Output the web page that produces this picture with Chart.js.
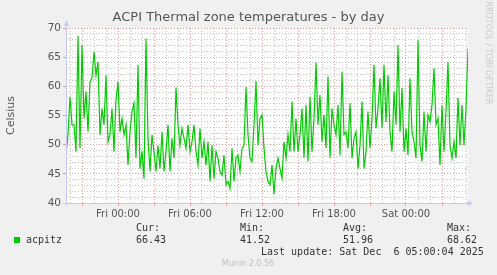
<!DOCTYPE html>
<html>
<head>
<meta charset="utf-8">
<script src="https://cdn.jsdelivr.net/npm/chart.js@4"></script>
<style>
  html, body { margin: 0; padding: 0; background: #f0f0f0; }
  #wrap { width: 497px; height: 275px; }
</style>
</head>
<body>
<div id="wrap"><canvas id="myChart" width="497" height="275"></canvas></div>
<script>
// time axis: hours relative to Fri 00:00, one sample every 10 minutes from Thu 19:40
const startHour = -4 - 20 / 60;
const stepHours = 10 / 60;

// acpitz temperature (Celsius)
const temps = [
  48.2, 51.7, 58.2, 53.4, 53.4, 48.8, 68.62, 49.4, 67.1, 54.5, 59.1, 52.2, 60.8, 61.4, 65.9, 61.9, 64.2,
  51.7, 56.2, 53.4, 61.9, 50.5, 51.7, 56.2, 48.8, 57.7, 60.8, 52.2, 54.5, 51.7, 53.4, 46.5, 52.2, 55.7,
  57.1, 47.7, 63.7, 45.9, 48.8, 44.2, 68.2, 51.1, 45.4, 51.7, 48.8, 45.4, 49.9, 45.9, 52.2, 45.4, 48.8,
  53.4, 45.4, 51.1, 47.7, 59.8, 53.4, 49.9, 52.8, 51.1, 49.4, 53.4, 48.8, 50.5, 53.4, 48.8, 46.5,
  52.8, 47.7, 50.5, 46.5, 50.5, 43.7, 49.9, 44.2, 48.8, 47.7, 45.4, 44.8, 48.2, 43.1, 43.7, 42.5, 49.4,
  43.7, 47.7, 48.2, 45.4, 49.4, 49.9, 59.9, 51.7, 47.7, 47.1, 53.4, 60.9, 49.9, 54.5, 55.1, 49.4, 45.4,
  43.7, 43.1, 46.5, 41.52, 45.9, 47.7, 45.9, 44.2, 50.5, 47.7, 51.7, 48.8, 57.4, 48.8, 54.5, 48.8, 51.7,
  56.2, 47.7, 56.8, 47.1, 58.2, 48.8, 54.5, 64.1, 53.4, 58.5, 50.5, 55.1, 49.4, 61.7, 47.7, 56.2,
  53.4, 51.7, 56.8, 48.2, 62.5, 51.7, 52.2, 49.4, 57.1, 47.7, 51.1, 52.2, 45.9, 49.9, 57.4, 45.9, 48.8,
  55.7, 49.4, 54.5, 63.7, 52.8, 56.2, 61.4, 52.8, 63.7, 53.9, 61.9, 52.2, 48.8, 59.1, 53.4, 67.1, 52.2,
  59.7, 48.8, 52.8, 48.2, 61.4, 52.2, 50.5, 47.7, 67.9, 49.9, 47.1, 55.7, 48.8, 55.1, 53.9, 56.8, 63.1,
  53.4, 54.5, 46.5, 56.8, 48.8, 55.7, 64.2, 49.9, 47.7, 50.5, 47.7, 58.0, 49.9, 56.8, 49.9, 56.2, 66.43
];

const tickHours = [0, 6, 12, 18, 24];
const tickLabels = ['Fri 00:00', 'Fri 06:00', 'Fri 12:00', 'Fri 18:00', 'Sat 00:00'];
const yMin = 40, yMax = 70, yMajor = 5;

const statHeads = ['Cur:', 'Min:', 'Avg:', 'Max:'];
const statValues = ['66.43', '41.52', '51.96', '68.62'];

const points = temps.map((t, i) => ({ x: startHour + i * stepHours, y: t }));

const MAJOR = '#e09c9c';
const MINOR = '#c4c4c4';
const AXIS = '#c8c8f8';

const muninDecor = {
  id: 'muninDecor',
  beforeDraw(chart) {
    const ctx = chart.ctx, a = chart.chartArea;
    ctx.save();
    ctx.fillStyle = '#f0f0f0';
    ctx.fillRect(0, 0, chart.width, chart.height);
    ctx.fillStyle = '#ffffff';
    ctx.fillRect(a.left, a.top, a.right - a.left, a.bottom - a.top);
    ctx.restore();
  },
  afterDraw(chart) {
    const ctx = chart.ctx, a = chart.chartArea;
    ctx.save();
    // axes with arrows
    ctx.strokeStyle = AXIS;
    ctx.fillStyle = AXIS;
    ctx.lineWidth = 1;
    ctx.beginPath();
    ctx.moveTo(a.left + 0.5, a.bottom + 3);
    ctx.lineTo(a.left + 0.5, a.top - 3);
    ctx.moveTo(a.left - 3, a.bottom + 0.5);
    ctx.lineTo(a.right + 2, a.bottom + 0.5);
    ctx.stroke();
    ctx.beginPath();
    ctx.moveTo(a.left - 2, a.top - 2);
    ctx.lineTo(a.left + 3, a.top - 2);
    ctx.lineTo(a.left + 0.5, a.top - 8);
    ctx.closePath();
    ctx.fill();
    ctx.beginPath();
    ctx.moveTo(a.right, a.bottom - 2);
    ctx.lineTo(a.right, a.bottom + 3);
    ctx.lineTo(a.right + 5, a.bottom + 0.5);
    ctx.closePath();
    ctx.fill();

    // title
    ctx.fillStyle = '#555';
    ctx.font = '13px "DejaVu Sans"';
    ctx.textAlign = 'center';
    ctx.textBaseline = 'middle';
    ctx.fillText('ACPI Thermal zone temperatures - by day', 248.5, 18);

    // y axis title
    ctx.save();
    ctx.translate(11, (a.top + a.bottom) / 2);
    ctx.rotate(-Math.PI / 2);
    ctx.font = '11px "DejaVu Sans"';
    ctx.fillText('Celsius', 0, 0);
    ctx.restore();

    // rrdtool credit
    ctx.save();
    ctx.translate(488, 53);
    ctx.rotate(Math.PI / 2);
    ctx.fillStyle = '#c8c8c8';
    ctx.font = '8px "DejaVu Sans"';
    ctx.fillText('RRDTOOL / TOBI OETIKER', 0, 0);
    ctx.restore();

    // legend
    ctx.fillStyle = '#00cc00';
    ctx.fillRect(14, 237, 6, 6);
    ctx.fillStyle = '#333';
    ctx.font = '10px "DejaVu Sans Mono"';
    ctx.textAlign = 'left';
    ctx.fillText('acpitz', 26, 240);
    const cols = [136, 240, 343, 447];
    cols.forEach((x, i) => {
      ctx.fillText(statHeads[i], x, 228);
      ctx.fillText(statValues[i], x, 240);
    });
    ctx.fillText('Last update: Sat Dec  6 05:00:04 2025', 261, 252);

    ctx.fillStyle = '#c0c0c0';
    ctx.font = '8px "DejaVu Sans"';
    ctx.textAlign = 'center';
    ctx.fillText('Munin 2.0.56', 248, 264);
    ctx.restore();
  }
};

new Chart(document.getElementById('myChart').getContext('2d'), {
  type: 'line',
  data: {
    datasets: [{
      label: 'acpitz',
      data: points,
      borderColor: '#00cc00',
      borderWidth: 1.2,
      pointRadius: 0,
      tension: 0,
      fill: false
    }]
  },
  options: {
    responsive: false,
    animation: false,
    layout: { padding: { left: 0, top: 28, right: 29, bottom: 52 } },
    plugins: {
      legend: { display: false },
      title: { display: false },
      tooltip: { enabled: false }
    },
    scales: {
      x: {
        type: 'linear',
        min: startHour,
        max: startHour + (temps.length - 1) * stepHours,
        afterFit: s => { s.height = 20; },
        border: { display: false, dash: [1, 2] },
        grid: {
          color: c => (c.tick.value % 3 === 0 ? MAJOR : MINOR),
          tickColor: c => (c.tick.value % 3 === 0 ? MAJOR : 'rgba(0,0,0,0)'),
          tickLength: 3
        },
        ticks: {
          stepSize: 1,
          includeBounds: false,
          autoSkip: false,
          maxRotation: 0,
          padding: 2,
          color: '#555',
          font: { family: 'DejaVu Sans', size: 10 },
          callback: v => {
            const i = tickHours.indexOf(v);
            return i >= 0 ? tickLabels[i] : '';
          }
        }
      },
      y: {
        min: yMin,
        max: yMax,
        afterFit: s => { s.width = 66; },
        border: { display: false, dash: [1, 2] },
        grid: {
          color: c => (c.tick.value % yMajor === 0 ? MAJOR : MINOR),
          tickColor: c => (c.tick.value % yMajor === 0 ? MAJOR : 'rgba(0,0,0,0)'),
          tickLength: 3
        },
        ticks: {
          stepSize: 1,
          autoSkip: false,
          padding: 2,
          color: '#555',
          font: { family: 'DejaVu Sans', size: 10.5 },
          callback: v => (v % yMajor === 0 ? String(v) : '')
        }
      }
    }
  },
  plugins: [muninDecor]
});
</script>
</body>
</html>
